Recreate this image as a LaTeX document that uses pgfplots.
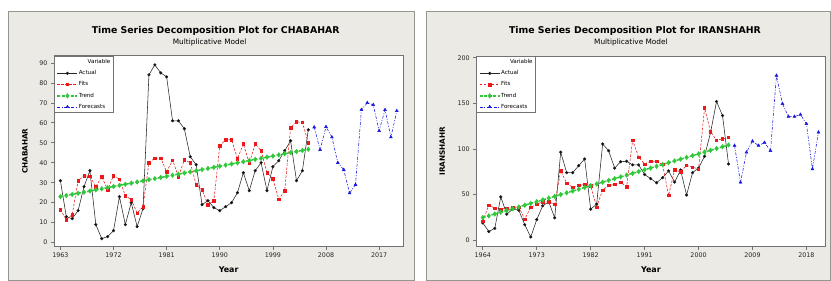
\documentclass[border=0pt]{standalone}
\usepackage{pgfplots}
\pgfplotsset{compat=1.18}
\usepackage{fontspec}
\setmainfont{DejaVu Sans}
\definecolor{panel}{RGB}{236,234,228}
\definecolor{panelborder}{RGB}{150,150,145}
\definecolor{frame}{RGB}{115,115,115}
\definecolor{mtred}{RGB}{235,25,25}
\definecolor{mtgreen}{RGB}{50,200,60}
\definecolor{mtblue}{RGB}{25,25,225}
\pgfplotsset{
  mtstyle/.style={
    scale only axis, width=350bp, height=191bp,
    axis background/.style={fill=white},
    axis line style={draw=frame, line width=0.8bp},
    tick style={draw=frame, line width=0.6bp},
    tick align=outside, major tick length=3bp,
    xtick pos=bottom, ytick pos=left,
    /pgf/number format/assume math mode=true,
    /pgf/number format/1000 sep={},
    ticklabel style={font=\fontsize{6.4}{7}\selectfont, text=black!85},
    xlabel={Year},
    xlabel style={font=\fontsize{8}{9}\selectfont\bfseries, at={(axis description cs:0.5,0)}, anchor=center, yshift=-23bp},
    legend style={at={(0,1)}, anchor=north west, draw=frame, line width=0.6bp,
      font=\fontsize{5.6}{6}\selectfont, inner xsep=2.5pt, inner ysep=2.5pt, row sep=4.3bp, fill=white,
      nodes={inner sep=0.6bp}},
    legend cell align=left,
    legend image code/.code={\draw[mark repeat=2,mark phase=2] plot coordinates {(0bp,0bp) (10bp,0bp) (20bp,0bp)};},
  },
  actual/.style={black!85, line width=0.55bp, mark=*, mark size=1.3bp, mark options={solid, fill=black}},
  fits/.style={mtred, line width=0.55bp, dash pattern=on 2.5bp off 1.5bp, mark=square*, mark size=1.2bp, mark options={solid, fill=mtred}},
  trend/.style={mtgreen, line width=1.5bp, dash pattern=on 3bp off 1.5bp, mark=diamond*, mark size=1.5bp, mark options={solid, fill=mtgreen}},
  fcast/.style={mtblue, line width=0.55bp, dash pattern=on 3bp off 1.5bp on 1bp off 1.5bp, mark=triangle*, mark size=1.6bp, mark options={solid, fill=mtblue}},
}
\begin{document}
\begin{tikzpicture}
% canvas and panels
\fill[white] (0bp,0bp) rectangle (831bp,280bp);
\filldraw[fill=panel, draw=panelborder, line width=0.8bp] (8bp,-1bp) rectangle (415bp,269bp);
\filldraw[fill=panel, draw=panelborder, line width=0.8bp] (427bp,-1bp) rectangle (832bp,269bp);
% titles
\node[font=\fontsize{9.4}{10}\selectfont\bfseries] at (216bp,249bp) {Time Series Decomposition Plot for CHABAHAR};
\node[font=\fontsize{7.4}{8}\selectfont] at (210bp,237.5bp) {Multiplicative Model};
\node[font=\fontsize{9.4}{10}\selectfont\bfseries] at (636bp,249bp) {Time Series Decomposition Plot for IRANSHAHR};
\node[font=\fontsize{7.4}{8}\selectfont] at (632bp,237.5bp) {Multiplicative Model};

% ---------------- CHABAHAR ----------------
\begin{axis}[mtstyle, at={(54bp,33bp)}, anchor=south west,
  xmin=-1.1, xmax=58.1, ymin=-2, ymax=93.5,
  xtick={0,9,18,27,36,45,54}, xticklabels={1963,1972,1981,1990,1999,2008,2017},
  ytick={0,10,20,30,40,50,60,70,80,90},
  ylabel={CHABAHAR},
  ylabel style={font=\fontsize{7.3}{8}\selectfont\bfseries, at={(axis description cs:-0.083,0.5)}, anchor=center}]
\addlegendimage{empty legend}\addlegendentry{\hspace{9bp}Variable}
\addplot[actual] coordinates {
(0,31)(1,13)(2,12)(3,16)(4,28)(5,36)(6,9)(7,2)(8,3)(9,6)(10,23)(11,9)(12,20)(13,8)(14,17)
(15,84)(16,89)(17,85)(18,83)(19,61)(20,61)(21,57)(22,43)(23,39)(24,19)(25,21)(26,17.5)(27,16)
(28,18)(29,20)(30,25)(31,35)(32,26)(33,36)(34,40)(35,26)(36,38)(37,41)(38,46)(39,51)(40,31)(41,36)(42,56.5)};
\addlegendentry{Actual}
\addplot[fits] coordinates {
(0,16.5)(1,11.5)(2,14)(3,31)(4,33.5)(5,33.2)(6,28)(7,33)(8,26.5)(9,33.5)(10,31.8)(11,23.5)(12,21.5)
(13,14.8)(14,18)(15,40)(16,42.3)(17,42.3)(18,35.5)(19,41.3)(20,33)(21,41.5)(22,40)(23,29)(24,26.5)
(25,19)(26,21)(27,48.5)(28,51.5)(29,51.5)(30,42)(31,49.4)(32,39.8)(33,49.4)(34,46)(35,35)(36,32)
(37,21.7)(38,25.9)(39,57.5)(40,60.5)(41,60.2)(42,50)};
\addlegendentry{Fits}
\addplot[trend] coordinates {
(0,23.00)(1,23.57)(2,24.13)(3,24.70)(4,25.26)(5,25.83)(6,26.39)(7,26.96)(8,27.52)(9,28.09)
(10,28.65)(11,29.22)(12,29.78)(13,30.35)(14,30.91)(15,31.48)(16,32.04)(17,32.61)(18,33.17)
(19,33.74)(20,34.30)(21,34.87)(22,35.43)(23,36.00)(24,36.56)(25,37.13)(26,37.69)(27,38.26)
(28,38.82)(29,39.39)(30,39.95)(31,40.52)(32,41.08)(33,41.65)(34,42.21)(35,42.78)(36,43.34)
(37,43.91)(38,44.47)(39,45.04)(40,45.60)(41,46.17)(42,46.73)};
\addlegendentry{Trend}
\addplot[fcast] coordinates {
(43,57.8)(44,46.5)(45,58)(46,52.8)(47,40)(48,36.5)(49,24.8)(50,29)(51,66.5)(52,70)(53,69)
(54,56)(55,66.5)(56,52.8)(57,66)};
\addlegendentry{Forecasts}
\end{axis}

% ---------------- IRANSHAHR ----------------
\begin{axis}[mtstyle, at={(477bp,33bp)}, anchor=south west,
  xmin=-1.1, xmax=57.2, ymin=-7, ymax=202,
  xtick={0,9,18,27,36,45,54}, xticklabels={1964,1973,1982,1991,2000,2009,2018},
  ytick={0,50,100,150,200},
  ylabel={IRANSHAHR},
  ylabel style={font=\fontsize{7.3}{8}\selectfont\bfseries, at={(axis description cs:-0.097,0.5)}, anchor=center}]
\addlegendimage{empty legend}\addlegendentry{\hspace{9bp}Variable}
\addplot[actual] coordinates {
(0,19)(1,9.5)(2,13)(3,47.5)(4,28.6)(5,34)(6,33)(7,17)(8,3.5)(9,22.5)(10,37.7)(11,42)(12,24.5)
(13,96.5)(14,74)(15,74)(16,81.7)(17,89)(18,34)(19,39.6)(20,105.5)(21,98)(22,79)(23,86)(24,86.5)
(25,82.5)(26,82.5)(27,72)(28,67.5)(29,63)(30,68.5)(31,76)(32,63.7)(33,77)(34,49.5)(35,74)(36,79)
(37,92)(38,118)(39,152)(40,136.6)(41,83.5)};
\addlegendentry{Actual}
\addplot[fits] coordinates {
(0,21)(1,38.5)(2,35)(3,34)(4,35)(5,36)(6,36.4)(7,23)(8,36)(9,39.5)(10,42)(11,42)(12,39.6)(13,76)
(14,62.3)(15,58)(16,60)(17,61)(18,59.7)(19,36.4)(20,55)(21,60)(22,61)(23,63.5)(24,58.5)(25,109.5)
(26,91)(27,83.5)(28,86.5)(29,86.5)(30,83)(31,49)(32,77)(33,75)(34,82)(35,80)(36,78)(37,145)
(38,119)(39,109.5)(40,111)(41,112.5)};
\addlegendentry{Fits}
\addplot[trend] coordinates {
(0,24.80)(1,26.74)(2,28.68)(3,30.62)(4,32.56)(5,34.50)(6,36.44)(7,38.38)(8,40.32)(9,42.26)
(10,44.20)(11,46.14)(12,48.08)(13,50.02)(14,51.96)(15,53.90)(16,55.84)(17,57.78)(18,59.72)
(19,61.66)(20,63.60)(21,65.54)(22,67.48)(23,69.42)(24,71.36)(25,73.30)(26,75.24)(27,77.18)
(28,79.12)(29,81.06)(30,83.00)(31,84.94)(32,86.88)(33,88.82)(34,90.76)(35,92.70)(36,94.64)
(37,96.58)(38,98.52)(39,100.46)(40,102.40)(41,104.34)};
\addlegendentry{Trend}
\addplot[fcast] coordinates {
(42,103.7)(43,63.4)(44,96.4)(45,108.5)(46,103.7)(47,107)(48,98)(49,180.5)(50,149.5)(51,135.5)
(52,135.5)(53,137.7)(54,127.5)(55,78)(56,118.3)};
\addlegendentry{Forecasts}
\end{axis}
\end{tikzpicture}
\end{document}
